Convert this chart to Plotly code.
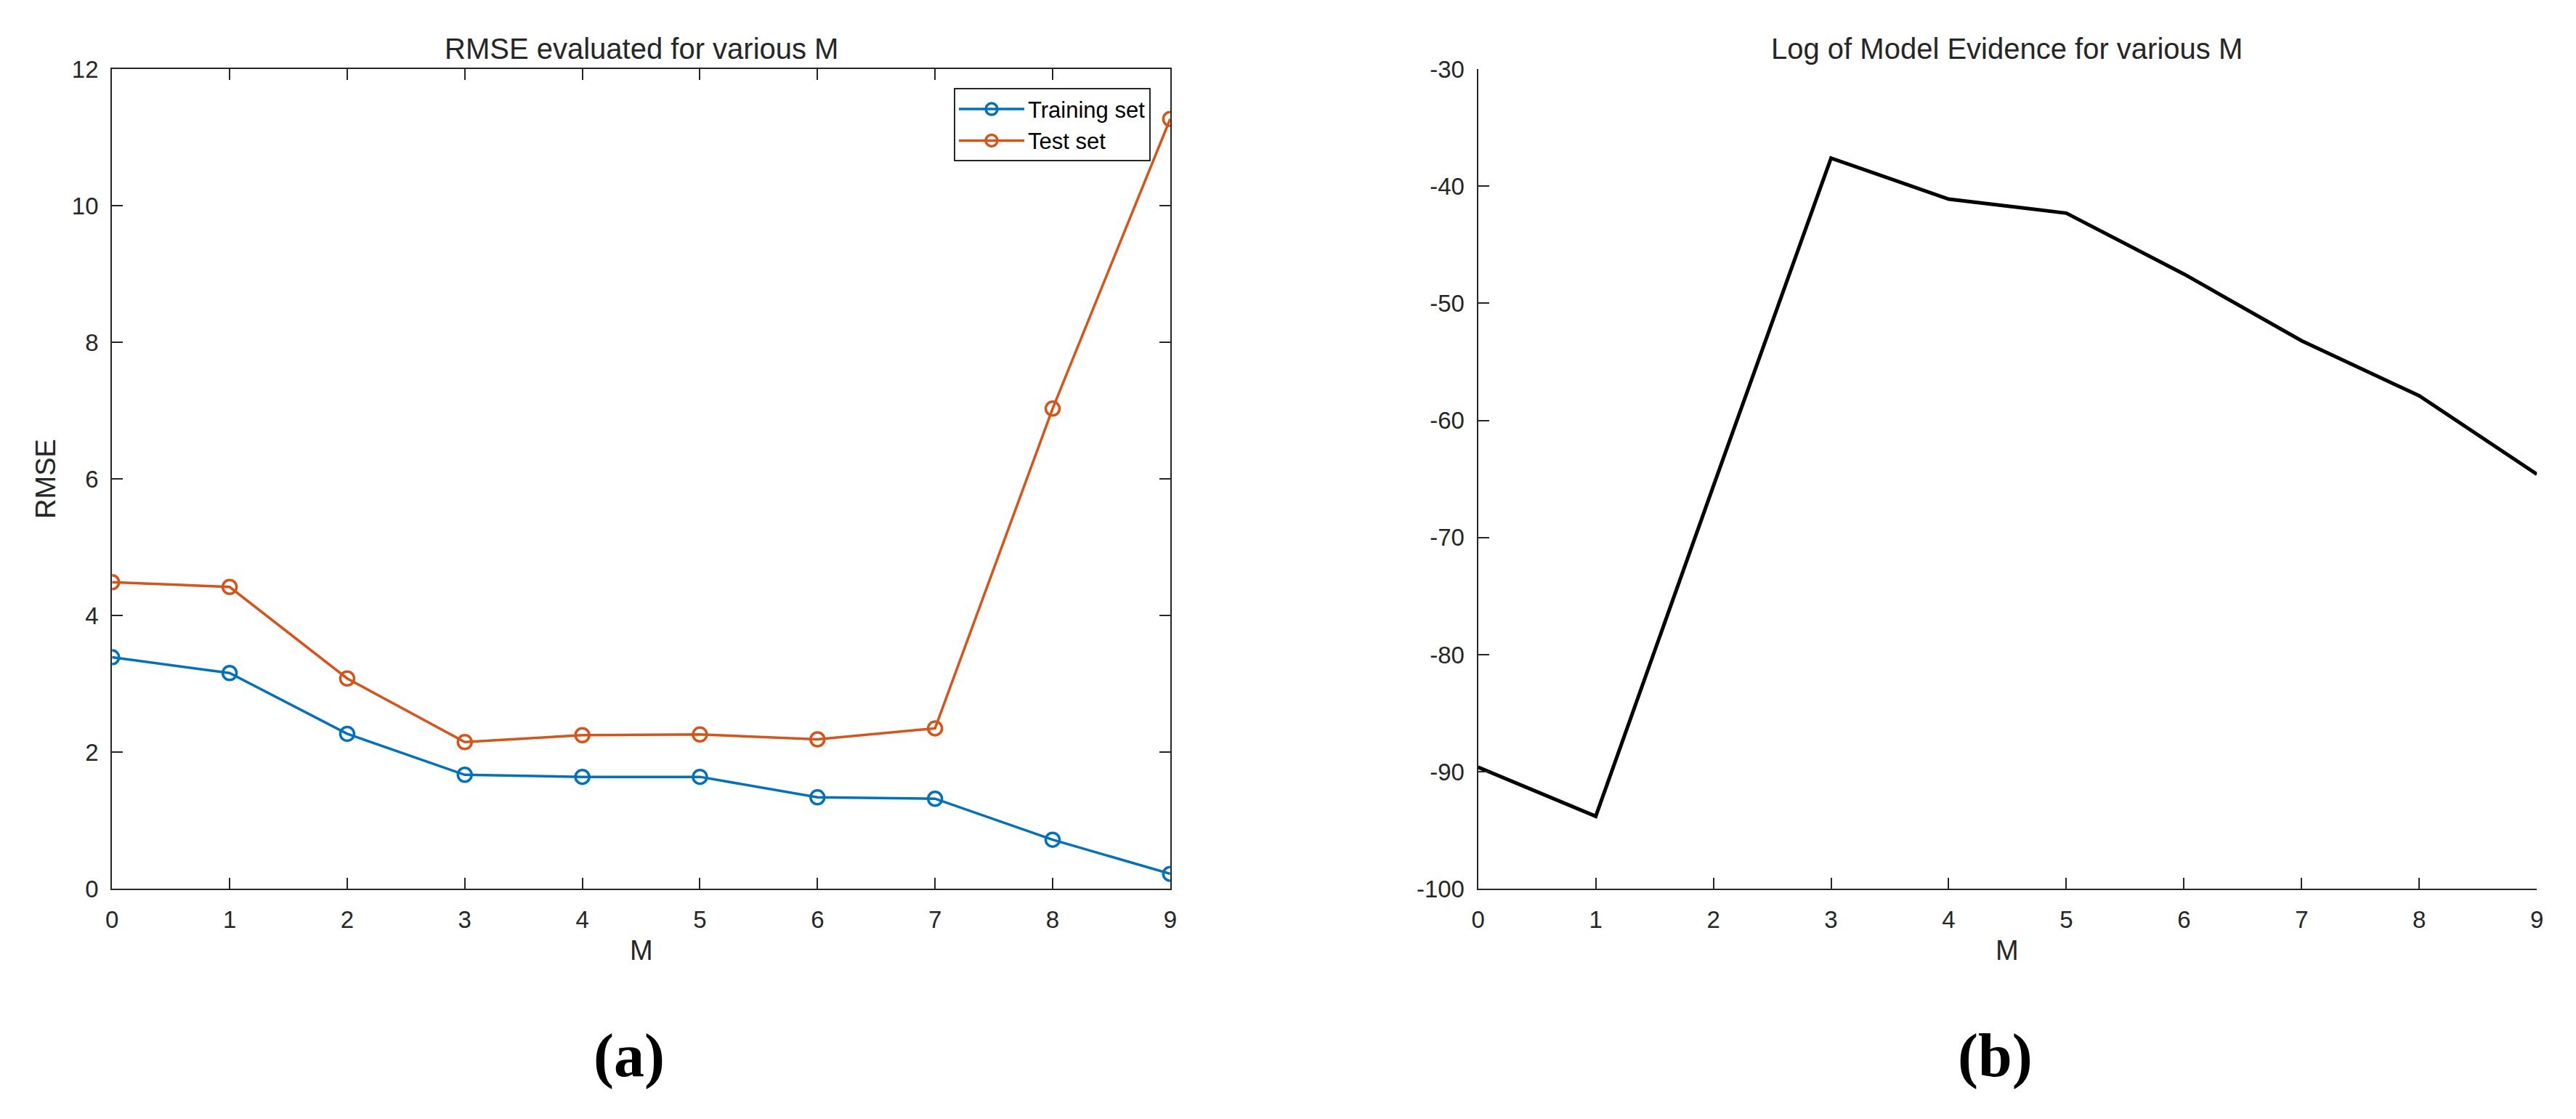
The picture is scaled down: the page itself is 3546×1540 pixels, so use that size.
import plotly.graph_objects as go

W, H = 3546, 1540

M = [0, 1, 2, 3, 4, 5, 6, 7, 8, 9]
rmse_train = [3.39, 3.16, 2.27, 1.67, 1.64, 1.64, 1.34, 1.32, 0.72, 0.22]
rmse_test = [4.49, 4.42, 3.08, 2.15, 2.25, 2.26, 2.19, 2.35, 7.03, 11.27]
log_evidence = [-89.6, -93.8, -65.6, -37.6, -41.1, -42.3, -47.5, -53.2, -57.9, -64.6]

rmse_ticks = [0, 2, 4, 6, 8, 10, 12]
evidence_ticks = [-100, -90, -80, -70, -60, -50, -40, -30]
evidence_ticklabels = ["-100", "-90", "-80", "-70", "-60", "-50", "-40", "-30"]

BLUE = "#0072BD"
ORANGE = "#D95319"
AX = "#262626"
FONT = "Liberation Sans, Arial, Helvetica, sans-serif"

def px(x):
    return x / W

def py(y):
    return 1 - y / H

fig = go.Figure()
fig.add_trace(go.Scatter(x=M, y=rmse_train, name="Training set", mode="lines+markers",
                         line=dict(color=BLUE, width=3.5),
                         marker=dict(symbol="circle-open", size=19, color=BLUE, line=dict(width=3.5)),
                         xaxis="x", yaxis="y"))
fig.add_trace(go.Scatter(x=M, y=rmse_test, name="Test set", mode="lines+markers",
                         line=dict(color=ORANGE, width=3.5),
                         marker=dict(symbol="circle-open", size=19, color=ORANGE, line=dict(width=3.5)),
                         xaxis="x", yaxis="y"))
fig.add_trace(go.Scatter(x=M, y=log_evidence, name="Log evidence", mode="lines",
                         line=dict(color="black", width=5), showlegend=False,
                         xaxis="x2", yaxis="y2"))

ax_common = dict(showgrid=False, zeroline=False, ticks="inside", ticklen=15, tickwidth=1.5,
                 tickcolor=AX, linecolor=AX, linewidth=2.2, showline=True,
                 tickfont=dict(family=FONT, size=33, color=AX))

fig.update_layout(
    width=W, height=H, margin=dict(l=0, r=0, t=0, b=0),
    paper_bgcolor="white", plot_bgcolor="white",
    font=dict(family=FONT, color=AX),
    xaxis=dict(domain=[px(146), px(1610)], range=[0, 9], dtick=1, mirror="ticks",
               ticklabelstandoff=12, anchor="y", **ax_common),
    yaxis=dict(domain=[py(1235), py(79)], range=[0, 12], tickvals=rmse_ticks, mirror="ticks",
               ticklabelstandoff=10, anchor="x", **ax_common),
    xaxis2=dict(domain=[px(2036), px(3501)], range=[0, 9], dtick=1,
                ticklabelstandoff=12, anchor="y2", **ax_common),
    yaxis2=dict(domain=[py(1235), py(79)], range=[-100, -30], tickvals=evidence_ticks,
                ticktext=evidence_ticklabels,
                ticklabelstandoff=10, anchor="x2", **ax_common),
    legend=dict(x=px(1583), y=py(106), xanchor="right", yanchor="top",
                bgcolor="white", bordercolor=AX, borderwidth=2,
                font=dict(family=FONT, size=31, color="black"),
                itemwidth=90, tracegroupgap=0),
    showlegend=True,
)

annos = [
    dict(text="RMSE evaluated for various M", x=px(878), y=py(50), size=40, family=FONT),
    dict(text="Log of Model Evidence for various M", x=px(2768), y=py(50), size=40, family=FONT),
    dict(text="M", x=px(878), y=py(1322), size=38, family=FONT),
    dict(text="M", x=px(2768), y=py(1322), size=38, family=FONT),
    dict(text="<b>(a)</b>", x=px(861), y=py(1470), size=84, family="Liberation Serif, DejaVu Serif, serif"),
    dict(text="<b>(b)</b>", x=px(2751), y=py(1470), size=84, family="Liberation Serif, DejaVu Serif, serif"),
]
for a in annos:
    fig.add_annotation(text=a["text"], x=a["x"], y=a["y"], xref="paper", yref="paper",
                       xanchor="center", yanchor="middle", showarrow=False,
                       font=dict(family=a["family"], size=a["size"], color=AX if a["size"] < 80 else "black"))
fig.add_annotation(text="RMSE", x=px(54), y=py(657), xref="paper", yref="paper",
                   xanchor="center", yanchor="middle", showarrow=False, textangle=-90,
                   font=dict(family=FONT, size=38, color=AX))

fig.write_html("out.html", config={"displayModeBar": False},
               post_script="document.body.style.margin='0';")
